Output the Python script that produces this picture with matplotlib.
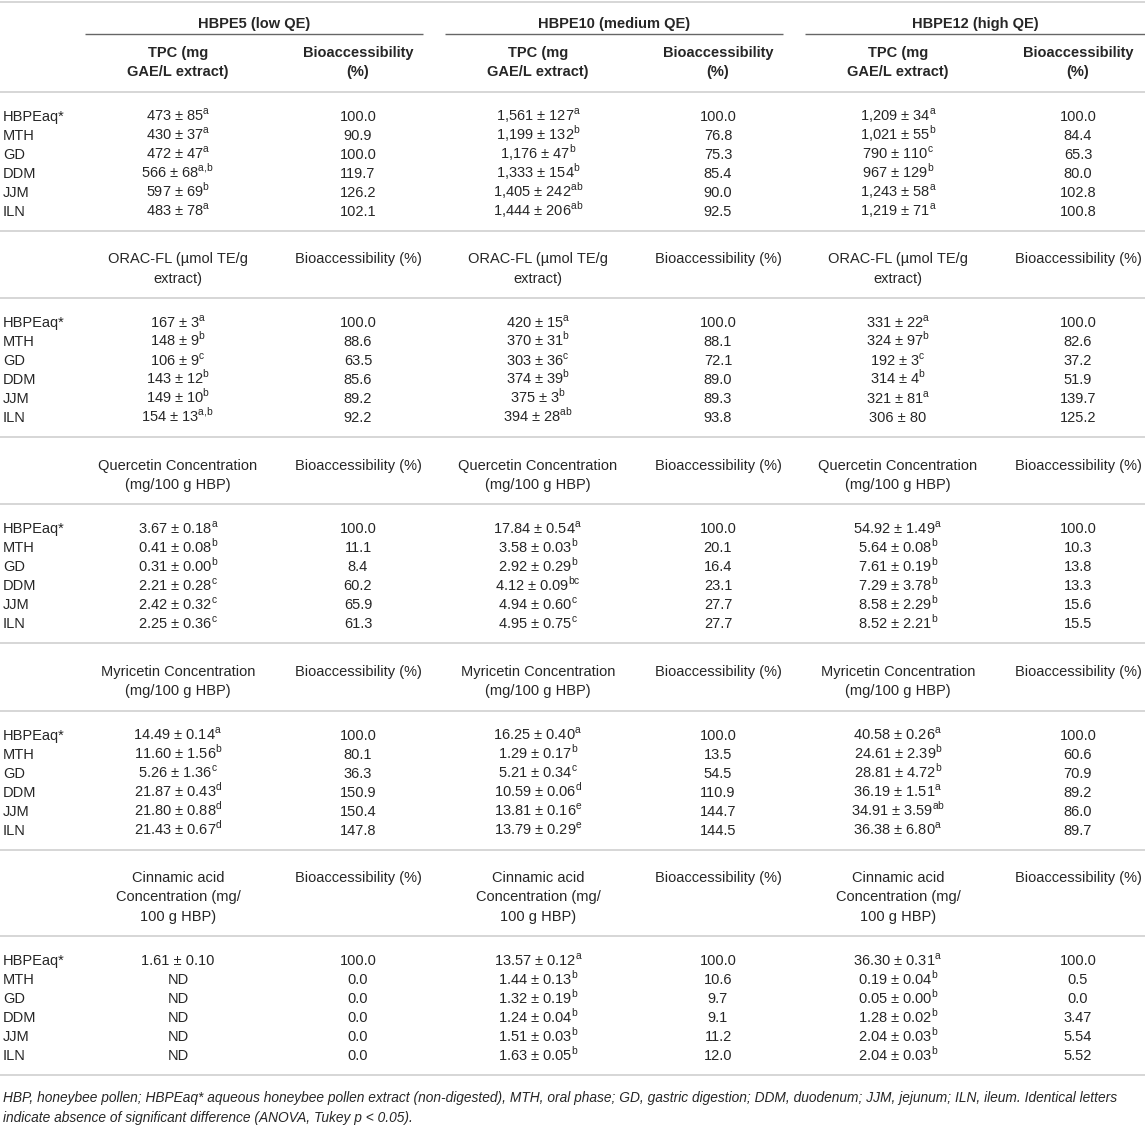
import matplotlib.pyplot as plt

plt.rcParams['font.family'] = ['Liberation Sans', 'DejaVu Sans']
plt.rcParams['mathtext.fontset'] = 'custom'
plt.rcParams['mathtext.rm'] = 'Liberation Sans'

# ---- table data ----
stages = ["HBPEaq*", "MTH", "GD", "DDM", "JJM", "ILN"]
groups = ["HBPE5 (low QE)", "HBPE10 (medium QE)", "HBPE12 (high QE)"]

tpc_head = ["TPC (mg\nGAE/L extract)", "Bioaccessibility\n(%)"]
tpc_low = ["473 ± 85^a", "430 ± 37^a", "472 ± 47^a", "566 ± 68^a,b", "597 ± 69^b", "483 ± 78^a"]
tpc_low_bio = ["100.0", "90.9", "100.0", "119.7", "126.2", "102.1"]
tpc_med = ["1,561 ± 127^a", "1,199 ± 132^b", "1,176 ± 47^b", "1,333 ± 154^b", "1,405 ± 242^ab", "1,444 ± 206^ab"]
tpc_med_bio = ["100.0", "76.8", "75.3", "85.4", "90.0", "92.5"]
tpc_high = ["1,209 ± 34^a", "1,021 ± 55^b", "790 ± 110^c", "967 ± 129^b", "1,243 ± 58^a", "1,219 ± 71^a"]
tpc_high_bio = ["100.0", "84.4", "65.3", "80.0", "102.8", "100.8"]

orac_head = ["ORAC-FL (µmol TE/g\nextract)", "Bioaccessibility (%)"]
orac_low = ["167 ± 3^a", "148 ± 9^b", "106 ± 9^c", "143 ± 12^b", "149 ± 10^b", "154 ± 13^a,b"]
orac_low_bio = ["100.0", "88.6", "63.5", "85.6", "89.2", "92.2"]
orac_med = ["420 ± 15^a", "370 ± 31^b", "303 ± 36^c", "374 ± 39^b", "375 ± 3^b", "394 ± 28^ab"]
orac_med_bio = ["100.0", "88.1", "72.1", "89.0", "89.3", "93.8"]
orac_high = ["331 ± 22^a", "324 ± 97^b", "192 ± 3^c", "314 ± 4^b", "321 ± 81^a", "306 ± 80"]
orac_high_bio = ["100.0", "82.6", "37.2", "51.9", "139.7", "125.2"]

quer_head = ["Quercetin Concentration\n(mg/100 g HBP)", "Bioaccessibility (%)"]
quer_low = ["3.67 ± 0.18^a", "0.41 ± 0.08^b", "0.31 ± 0.00^b", "2.21 ± 0.28^c", "2.42 ± 0.32^c", "2.25 ± 0.36^c"]
quer_low_bio = ["100.0", "11.1", "8.4", "60.2", "65.9", "61.3"]
quer_med = ["17.84 ± 0.54^a", "3.58 ± 0.03^b", "2.92 ± 0.29^b", "4.12 ± 0.09^bc", "4.94 ± 0.60^c", "4.95 ± 0.75^c"]
quer_med_bio = ["100.0", "20.1", "16.4", "23.1", "27.7", "27.7"]
quer_high = ["54.92 ± 1.49^a", "5.64 ± 0.08^b", "7.61 ± 0.19^b", "7.29 ± 3.78^b", "8.58 ± 2.29^b", "8.52 ± 2.21^b"]
quer_high_bio = ["100.0", "10.3", "13.8", "13.3", "15.6", "15.5"]

myr_head = ["Myricetin Concentration\n(mg/100 g HBP)", "Bioaccessibility (%)"]
myr_low = ["14.49 ± 0.14^a", "11.60 ± 1.56^b", "5.26 ± 1.36^c", "21.87 ± 0.43^d", "21.80 ± 0.88^d", "21.43 ± 0.67^d"]
myr_low_bio = ["100.0", "80.1", "36.3", "150.9", "150.4", "147.8"]
myr_med = ["16.25 ± 0.40^a", "1.29 ± 0.17^b", "5.21 ± 0.34^c", "10.59 ± 0.06^d", "13.81 ± 0.16^e", "13.79 ± 0.29^e"]
myr_med_bio = ["100.0", "13.5", "54.5", "110.9", "144.7", "144.5"]
myr_high = ["40.58 ± 0.26^a", "24.61 ± 2.39^b", "28.81 ± 4.72^b", "36.19 ± 1.51^a", "34.91 ± 3.59^ab", "36.38 ± 6.80^a"]
myr_high_bio = ["100.0", "60.6", "70.9", "89.2", "86.0", "89.7"]

cin_head = ["Cinnamic acid\nConcentration (mg/\n100 g HBP)", "Bioaccessibility (%)"]
cin_low = ["1.61 ± 0.10", "ND", "ND", "ND", "ND", "ND"]
cin_low_bio = ["100.0", "0.0", "0.0", "0.0", "0.0", "0.0"]
cin_med = ["13.57 ± 0.12^a", "1.44 ± 0.13^b", "1.32 ± 0.19^b", "1.24 ± 0.04^b", "1.51 ± 0.03^b", "1.63 ± 0.05^b"]
cin_med_bio = ["100.0", "10.6", "9.7", "9.1", "11.2", "12.0"]
cin_high = ["36.30 ± 0.31^a", "0.19 ± 0.04^b", "0.05 ± 0.00^b", "1.28 ± 0.02^b", "2.04 ± 0.03^b", "2.04 ± 0.03^b"]
cin_high_bio = ["100.0", "0.5", "0.0", "3.47", "5.54", "5.52"]

footnote = ["HBP, honeybee pollen; HBPEaq* aqueous honeybee pollen extract (non-digested), MTH, oral phase; "
            "GD, gastric digestion; DDM, duodenum; JJM, jejunum; ILN, ileum. Identical letters",
            "indicate absence of significant difference (ANOVA, Tukey p < 0.05)."]

sections = [
    (tpc_head, [tpc_low, tpc_low_bio, tpc_med, tpc_med_bio, tpc_high, tpc_high_bio], True),
    (orac_head, [orac_low, orac_low_bio, orac_med, orac_med_bio, orac_high, orac_high_bio], False),
    (quer_head, [quer_low, quer_low_bio, quer_med, quer_med_bio, quer_high, quer_high_bio], False),
    (myr_head, [myr_low, myr_low_bio, myr_med, myr_med_bio, myr_high, myr_high_bio], False),
    (cin_head, [cin_low, cin_low_bio, cin_med, cin_med_bio, cin_high, cin_high_bio], False),
]

# ---- layout (pixels) ----
W, H = 1145, 1131
FS = 10.5
INK = '#262626'
RULE = '#d6d6d6'
col_x = [178, 358, 538, 718, 898, 1078]
group_lines = [(85, 423), (445, 783), (805, 1145)]
row_h = 19.0
line_h = 19.3
base_off = 5  # center -> baseline


def fmt(s):
    # "473 ± 85^a,b" -> superscript letters via mathtext
    if '^' in s:
        base, sup = s.split('^')
        sup = sup.replace(',', r',\!')
        return base + r'$^{\mathregular{' + sup + '}}$'
    return s


fig = plt.figure(figsize=(W / 100, H / 100), dpi=100)
ax = fig.add_axes([0, 0, 1, 1])
ax.set_xlim(0, W)
ax.set_ylim(H, 0)
ax.axis('off')


def put(x, y, s, ha='center', weight='normal', style='normal', size=FS):
    return ax.text(x, y + base_off, s, ha=ha, va='baseline', fontsize=size,
                   fontweight=weight, fontstyle=style, color=INK)


def rule(y, x0=0, x1=W, color=RULE, lw=1.4):
    ax.plot([x0, x1], [y, y], color=color, lw=lw, solid_capstyle='butt')


rule(2)
for g, (x0, x1) in zip(groups, group_lines):
    put((x0 + x1) / 2, 23, g, weight='bold')
    rule(34, x0, x1, color='#666666', lw=1.0)
y = 52

for si, (head, cols, bold) in enumerate(sections):
    n_lines = max(len(h.split('\n')) for h in head)
    for k in range(3):
        for ci in range(2):
            for li, part in enumerate(head[ci].split('\n')):
                put(col_x[2 * k + ci], y + li * line_h, part, weight='bold' if bold else 'normal')
    y_rule = y + (n_lines - 1) * line_h + 20.5
    rule(y_rule)
    y0 = y_rule + 24
    for ri, name in enumerate(stages):
        yy = y0 + ri * row_h
        put(3, yy, name, ha='left')
        for ci, col in enumerate(cols):
            put(col_x[ci], yy, fmt(col[ri]))
    y_end = y0 + (len(stages) - 1) * row_h + 20
    rule(y_end)
    y = y_end + 27.5

# footnote in italics, sized to span the table width
fy = y_end + 22
notes = [put(3, fy + i * 20, line, ha='left', style='italic') for i, line in enumerate(footnote)]
fig.canvas.draw()
w0 = notes[0].get_window_extent().width
for t in notes:
    t.set_fontsize(FS * 1124 / w0)

fig.savefig('out.png', dpi=100, facecolor='white')
